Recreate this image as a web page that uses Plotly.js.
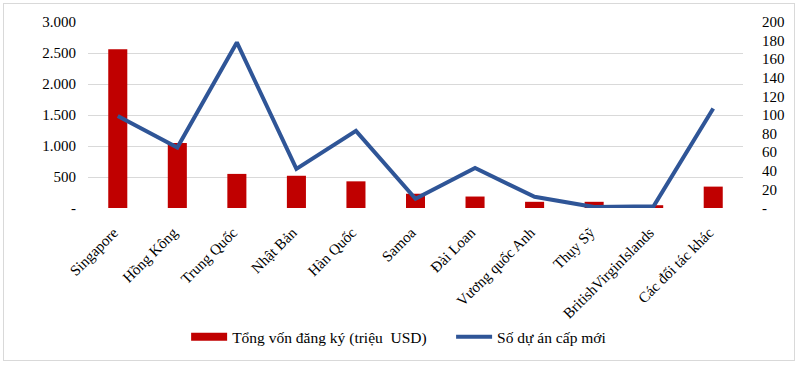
<!DOCTYPE html>
<html>
<head>
<meta charset="utf-8">
<script src="https://cdn.plot.ly/plotly-3.0.1.min.js"></script>
<style>
  body { margin: 0; background: #fff; }
  #chart { width: 800px; height: 366px; }
  #frame { position: absolute; left: 3px; top: 3px; width: 792px; height: 358px; border: 1px solid #d9d9d9; pointer-events: none; box-sizing: border-box; }
</style>
</head>
<body>
<div id="chart"></div>
<div id="frame"></div>
<script>
const categories = ["Singapore", "Hồng Kông", "Trung Quốc", "Nhật Bản", "Hàn Quốc", "Samoa", "Đài Loan", "Vương quốc Anh", "Thụy Sỹ", "BritishVirginIslands", "Các đối tác khác"];
const capital = [2560, 1050, 550, 520, 430, 230, 185, 100, 100, 45, 345];
const projects = [99, 65, 178, 42, 83, 10, 43, 12, 1, 2, 107];
const leftTickVals = [0, 500, 1000, 1500, 2000, 2500, 3000];
const leftTickText = ["-", "500", "1.000", "1.500", "2.000", "2.500", "3.000"];
const rightTickVals = [0, 20, 40, 60, 80, 100, 120, 140, 160, 180, 200];
const rightTickText = ["-", "20", "40", "60", "80", "100", "120", "140", "160", "180", "200"];
const barName = "Tổng vốn đăng ký (triệu  USD)";
const lineName = "Số dự án cấp mới";

const fam = "Times New Roman, Liberation Serif, DejaVu Serif";
const tf = { family: fam, size: 15, color: "#000" };
const lf = { family: fam, size: 15.5, color: "#000" };

const traces = [
  {
    type: "bar", x: categories, y: capital, name: barName, showlegend: false,
    marker: { color: "#c00000" }, yaxis: "y"
  },
  {
    type: "scatter", mode: "lines", x: [null], y: [null],
    name: barName + "\u00a0\u00a0\u00a0\u00a0\u00a0",
    line: { color: "#c00000", width: 8 }, yaxis: "y", hoverinfo: "skip"
  },
  {
    type: "scatter", mode: "lines", x: categories, y: projects, name: lineName,
    line: { color: "#2f5597", width: 4 }, yaxis: "y2"
  }
];

const layout = {
  width: 800, height: 366,
  margin: { l: 88, r: 57, t: 22, b: 155 },
  paper_bgcolor: "#fff", plot_bgcolor: "#fff",
  font: tf,
  bargap: 0.68,
  showlegend: true,
  legend: {
    orientation: "h", x: 0.475, xanchor: "center", y: -0.695, yanchor: "middle",
    font: lf, traceorder: "normal", itemwidth: 36, tracegroupgap: 0
  },
  xaxis: {
    type: "category", tickangle: -45, showgrid: false, showline: false, ticks: "",
    tickfont: tf, ticklabelstandoff: 12, ticklabelshift: -4
  },
  yaxis: {
    range: [0, 3000], tickvals: leftTickVals, ticktext: leftTickText,
    showgrid: true, gridcolor: "#d9d9d9", gridwidth: 1, zeroline: false,
    showline: false, ticks: "", tickfont: tf, automargin: false, ticklabelstandoff: 11
  },
  yaxis2: {
    range: [0, 200], tickvals: rightTickVals, ticktext: rightTickText,
    overlaying: "y", side: "right", showgrid: false, zeroline: false, showline: false,
    ticks: "", tickfont: tf, automargin: false, ticklabelstandoff: 18
  }
};

Plotly.newPlot("chart", traces, layout, { displayModeBar: false, staticPlot: true });
</script>
</body>
</html>
